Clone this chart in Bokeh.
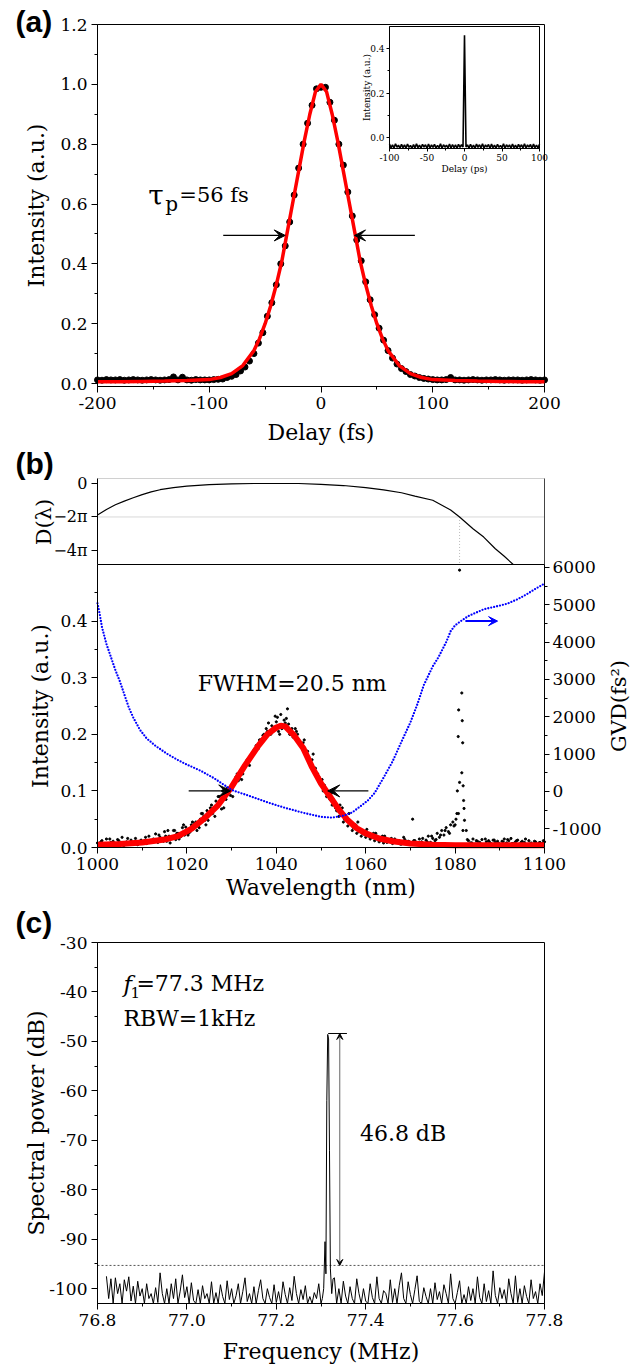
import math
from bokeh.plotting import figure
from bokeh.layouts import column
from bokeh.models import (Range1d, LinearAxis, FixedTicker, PrintfTickFormatter,
                          Label, Arrow, VeeHead)
from bokeh.embed import file_html
from bokeh.resources import INLINE

SERIF = "DejaVu Serif"
BOLD_SANS = "Liberation Sans"

# ---------------- (a) autocorrelation ----------------
a_delay = list(range(-200, 201, 4))
a_data = [0.012, 0.011, 0.013, 0.012, 0.012, 0.013, 0.011, 0.012, 0.013, 0.012, 0.011, 0.012, 0.013,
          0.012, 0.011, 0.012, 0.013, 0.022, 0.012, 0.021, 0.012, 0.011, 0.013, 0.012, 0.012,
          0.012, 0.013, 0.014, 0.015, 0.02, 0.024, 0.03, 0.042, 0.055, 0.075, 0.1, 0.135, 0.17,
          0.225, 0.27, 0.33, 0.4, 0.46, 0.54, 0.63, 0.72, 0.8, 0.87, 0.93, 0.985,
          0.99,
          0.99, 0.94, 0.88, 0.8, 0.73, 0.64, 0.56, 0.48, 0.41, 0.34, 0.28, 0.23, 0.185, 0.145,
          0.11, 0.085, 0.065, 0.05, 0.04, 0.03, 0.025, 0.02, 0.017, 0.015, 0.013,
          0.012, 0.012, 0.013, 0.02, 0.012, 0.012, 0.011, 0.012, 0.013, 0.012, 0.011, 0.012,
          0.012, 0.013, 0.012, 0.011, 0.012, 0.012, 0.012, 0.011, 0.012, 0.013, 0.012, 0.011, 0.012]
a_fit_delay = [-200, -180, -160, -140, -120, -100, -90, -80, -70, -60, -55, -50, -45, -40, -35, -30,
               -25, -20, -15, -10, -5, 0, 5, 10, 15, 20, 25, 30, 35, 40, 45, 50, 55, 60, 70, 80, 90,
               100, 120, 140, 160, 180, 200]
a_fit = [0.006, 0.006, 0.007, 0.008, 0.01, 0.013, 0.02, 0.033, 0.06, 0.11, 0.15, 0.2, 0.26, 0.33,
         0.41, 0.51, 0.61, 0.71, 0.81, 0.9, 0.975, 1.0, 0.975, 0.9, 0.81, 0.71, 0.61, 0.51, 0.41,
         0.33, 0.26, 0.2, 0.15, 0.11, 0.06, 0.033, 0.02, 0.013, 0.01, 0.008, 0.007, 0.006, 0.006]
a_xlim = (-200, 200)
a_ylim = (-0.01, 1.2)
a_xticks = [-200, -100, 0, 100, 200]
a_xminor = [-150, -50, 50, 150]
a_yticks = [0.0, 0.2, 0.4, 0.6, 0.8, 1.0, 1.2]
a_yminor = [0.1, 0.3, 0.5, 0.7, 0.9, 1.1]
a_half_level = 0.495
a_left_arrow = [-87.5, -32]
a_right_arrow = [84, 30]

inset_delay = list(range(-100, 101, 2))
inset_int = [-0.030, -0.047, -0.033, -0.048, -0.029, -0.044, -0.035, -0.049, -0.031, -0.046,
             -0.034, -0.048, -0.030, -0.045, -0.036, -0.049, -0.032, -0.047, -0.029, -0.046,
             -0.035, -0.048, -0.031, -0.044, -0.033, -0.049, -0.030, -0.047, -0.034, -0.045,
             -0.031, -0.048, -0.036, -0.046, -0.029, -0.049, -0.033, -0.044, -0.035, -0.047,
             -0.030, -0.048, -0.032, -0.046, -0.034, -0.049, -0.031, -0.045, -0.033, -0.043,
             0.460,
             -0.043, -0.034, -0.048, -0.031, -0.046, -0.035, -0.049, -0.030, -0.045, -0.033,
             -0.047, -0.029, -0.048, -0.034, -0.044, -0.032, -0.049, -0.030, -0.046, -0.035,
             -0.048, -0.031, -0.045, -0.036, -0.047, -0.029, -0.049, -0.033, -0.044, -0.034,
             -0.048, -0.030, -0.046, -0.035, -0.049, -0.031, -0.045, -0.033, -0.047, -0.029,
             -0.048, -0.034, -0.044, -0.032, -0.049, -0.030, -0.046, -0.035, -0.047, -0.031]
inset_xlim = (-100, 100)
inset_ylim = (-0.05, 0.5)
inset_xticks = [-100, -50, 0, 50, 100]
inset_xminor = [-75, -25, 25, 75]
inset_yticks = [0.0, 0.2, 0.4]
inset_yminor = [0.1, 0.3]

# ---------------- (b) spectrum ----------------
b_wl = [1000 + 0.5 * i for i in range(201)]
b_data = [0.008,
          0.004, 0.012, 0.006, 0.015, 0.003, 0.009, 0.011, 0.005, 0.014, 0.007, 0.018, 0.004, 0.01, 0.006, 0.013, 0.008, 0.016, 0.005, 0.011, 0.009,
          0.012, 0.007, 0.02, 0.01, 0.015, 0.024, 0.009, 0.018, 0.013, 0.028, 0.011, 0.02, 0.016, 0.03, 0.014, 0.025, 0.019, 0.035, 0.022, 0.03,
          0.026, 0.04, 0.033, 0.045, 0.038, 0.05, 0.06, 0.048, 0.065, 0.058, 0.075, 0.07, 0.082, 0.09, 0.078, 0.1, 0.095, 0.105, 0.098, 0.11,
          0.112, 0.125, 0.118, 0.135, 0.13, 0.148, 0.155, 0.145, 0.165, 0.172, 0.18, 0.175, 0.19, 0.198, 0.192, 0.205, 0.2, 0.215, 0.21, 0.222,
          0.205, 0.235, 0.215, 0.22, 0.245, 0.2, 0.21, 0.195, 0.205, 0.19, 0.18, 0.185, 0.165, 0.17, 0.15, 0.155, 0.14, 0.13, 0.125, 0.118,
          0.1, 0.105, 0.09, 0.085, 0.075, 0.08, 0.065, 0.055, 0.06, 0.045, 0.05, 0.038, 0.042, 0.03, 0.035, 0.025, 0.028, 0.02, 0.024, 0.018,
          0.022, 0.015, 0.018, 0.012, 0.02, 0.01, 0.014, 0.008, 0.016, 0.011, 0.013, 0.007, 0.015, 0.01, 0.012, 0.006, 0.018, 0.009, 0.011, 0.008,
          0.05, 0.012, 0.007, 0.015, 0.01, 0.006, 0.013, 0.02, 0.009, 0.016, 0.012, 0.025, 0.018, 0.03, 0.022, 0.035, 0.028, 0.04, 0.045, 0.04,
          0.1, 0.115, 0.132, 0.069, 0.03, 0.012, 0.008, 0.015, 0.006, 0.011, 0.009, 0.014, 0.005, 0.01, 0.012, 0.007, 0.013, 0.009, 0.011, 0.006,
          0.011, 0.015, 0.008, 0.012, 0.016, 0.007, 0.01, 0.013, 0.006, 0.011, 0.009, 0.004, 0.012, 0.008, 0.006, 0.01, 0.005, 0.009, 0.007, 0.01]
b_extra_wl = [1015.25 + i for i in range(50)]
b_extra = [0.02, 0.008, 0.03, 0.015, 0.04, 0.022, 0.045, 0.03, 0.06, 0.04,
           0.07, 0.055, 0.09, 0.07, 0.1, 0.09, 0.13, 0.12, 0.15, 0.16,
           0.17, 0.19, 0.2, 0.22, 0.205, 0.23, 0.21, 0.228, 0.2, 0.21,
           0.185, 0.19, 0.16, 0.165, 0.13, 0.12, 0.09, 0.095, 0.07, 0.075,
           0.05, 0.06, 0.035, 0.045, 0.025, 0.032, 0.018, 0.025, 0.012, 0.02]
b_extra2_wl = [1000.75 + i for i in range(100)]
b_extra2 = [0.01, 0.003, 0.015, 0.007, 0.012, 0.004, 0.016, 0.009, 0.006, 0.013,
            0.018, 0.009, 0.014, 0.022, 0.011, 0.03, 0.016, 0.025, 0.02, 0.036,
            0.028, 0.042, 0.035, 0.055, 0.048, 0.06, 0.072, 0.068, 0.085, 0.092,
            0.118, 0.122, 0.14, 0.15, 0.168, 0.176, 0.19, 0.21, 0.2, 0.232,
            0.2, 0.225, 0.218, 0.195, 0.2, 0.18, 0.168, 0.15, 0.14, 0.12,
            0.11, 0.095, 0.085, 0.065, 0.07, 0.052, 0.045, 0.04, 0.03, 0.028,
            0.02, 0.025, 0.014, 0.02, 0.009, 0.016, 0.012, 0.006, 0.014, 0.01,
            0.012, 0.008, 0.016, 0.01, 0.02, 0.014, 0.022, 0.03, 0.025, 0.038,
            0.06, 0.03, 0.014, 0.008, 0.012, 0.006, 0.015, 0.009, 0.013, 0.007,
            0.01, 0.014, 0.007, 0.012, 0.009, 0.015, 0.006, 0.011, 0.008, 0.012]
b_spike_wl = [1080.2, 1080.4, 1080.7, 1080.8, 1081.0, 1081.5, 1081.6, 1081.7, 1081.8, 1081.9, 1082.1]
b_spike = [0.05, 0.06, 0.196, 0.243, 0.49, 0.273, 0.224, 0.185, 0.109, 0.083, 0.048]
b_fit_wl = [1000, 1005, 1010, 1015, 1018, 1021, 1024, 1027, 1030, 1033, 1036, 1038, 1040, 1041, 1042,
            1044, 1046, 1048, 1050, 1052, 1054, 1056, 1058, 1060, 1063, 1066, 1070, 1075, 1080, 1090, 1100]
b_fit = [0.005, 0.006, 0.009, 0.014, 0.02, 0.033, 0.052, 0.075, 0.107, 0.145, 0.18, 0.2, 0.212, 0.215,
         0.214, 0.198, 0.176, 0.142, 0.113, 0.09, 0.067, 0.048, 0.034, 0.025, 0.016, 0.011, 0.007,
         0.005, 0.004, 0.004, 0.004]
gvd_wl = [1000, 1000.5, 1001, 1002, 1003, 1004, 1005, 1006, 1007, 1008, 1009.5, 1011, 1013, 1015.5,
          1018, 1020, 1023, 1026, 1030, 1034, 1038, 1042, 1046, 1050, 1052.5, 1055, 1057, 1059, 1060.5,
          1062, 1064, 1066, 1067.8, 1070, 1071.6, 1073, 1075, 1076.3, 1078, 1079, 1080, 1081.6, 1083,
          1086.4, 1089, 1091.7, 1094, 1096, 1098, 1100]
gvd = [5040, 4750, 4400, 3950, 3600, 3250, 2950, 2600, 2250, 1980, 1650, 1420, 1220, 1013, 840, 720,
       560, 360, 40, -120, -290, -440, -570, -680, -700, -650, -560, -380, -240, -40, 370, 800, 1280,
       1850, 2350, 2850, 3350, 3600, 4000, 4290, 4450, 4590, 4700, 4880, 4950, 5030, 5150, 5280, 5430, 5570]
d_wl = [1000, 1002, 1004, 1006, 1008, 1010, 1012, 1014, 1017, 1020, 1025, 1030, 1035, 1040, 1045, 1050,
        1055, 1060, 1064, 1068, 1071, 1075, 1079, 1081, 1084, 1086.4, 1089, 1091, 1093]
d_phase_pi = [-1.88, -1.55, -1.27, -1.05, -0.85, -0.66, -0.5, -0.37, -0.24, -0.15, -0.07, -0.02, 0, 0, 0,
              -0.05, -0.12, -0.24, -0.38, -0.55, -0.75, -1.0, -1.58, -2.0, -2.7, -3.2, -3.9, -4.35, -4.84]
b_xlim = (1000, 1100)
b_ylim = (0, 0.5)
gvd_lim = (-1500, 6080)
phase_lim = (-4.84, 0.3)
d_ticks = [-4, -2, 0]
d_tick_labels = {0: "0", -2: "\u22122\u03c0", -4: "\u22124\u03c0"}
b_xticks = [1000, 1020, 1040, 1060, 1080, 1100]
b_xminor = [1010, 1030, 1050, 1070, 1090]
b_yticks = [0.0, 0.1, 0.2, 0.3, 0.4]
b_yminor = [0.05, 0.15, 0.25, 0.35, 0.45]
gvd_ticks = [-1000, 0, 1000, 2000, 3000, 4000, 5000, 6000]
gvd_minor = [-500, 500, 1500, 2500, 3500, 4500, 5500]
cross_wl = 1081
cross_phase = -2
b_half_level = 0.1
b_left_arrow = [1020.4, 1029.8]
b_right_arrow = [1060.6, 1051.5]
b_gvd_arrow = [1082.3, 1089.5]
b_gvd_arrow_level = 0.4

# ---------------- (c) RF spectrum (floor of the trace sits on the axis at -103) ----------------
c_pre = [-97.5, -102, -98, -103, -97.8, -101, -99, -103, -98.2, -100.5, -97.6, -102.5, -99.5, -103, -98.5, -101.5, -100, -103, -99, -102,
         -101, -103, -99.8, -102.8, -96.8, -101, -103, -100, -103, -99, -102, -98, -103, -100.5, -97.2, -101.8, -99.6, -103, -98.8, -102.4,
         -103, -100.2, -103, -99.4, -102, -101, -103, -98.6, -103, -100.8, -103, -99.2, -101.6, -103, -98.4, -102.2, -100, -103, -101.4, -99,
         -103, -100.6, -97.8, -102.6, -101, -103, -99.6, -103, -100.4, -98.2, -102, -103, -100, -101.8, -103, -99.2, -102.8, -100.6, -103, -98.6,
         -101.2, -103, -99.8, -102.4, -97.5, -101, -103, -100.2, -102.2, -99.4, -103, -101.6, -103, -100.8, -102, -99, -103]
c_peak_f = [77.303, 77.306, 77.309, 77.311, 77.313, 77.315, 77.317, 77.319, 77.321, 77.324, 77.327]
c_peak = [-102, -100, -90.5, -97, -62, -48.6, -49.5, -72, -96, -101, -98]
c_post = [-97.8, -103, -100, -103, -98.5, -101.5, -103, -99.6, -102, -103, -98, -101, -103, -100, -102.5, -103, -99, -101.8, -103, -97.6,
          -102, -103, -100.4, -101, -103, -98.2, -102.8, -100, -103, -99.4, -96.8, -102, -103, -98.6, -101.2, -103, -100.2, -97.4, -102.6, -103,
          -99.8, -101.6, -103, -100, -103, -98.8, -102.2, -100.6, -103, -99.2, -101, -103, -97, -102, -103, -100.8, -98.4, -103, -101.2, -103,
          -99.6, -102.4, -100, -103, -97.6, -101.8, -103, -99, -102.6, -100.4, -103, -96.4, -101.4, -103, -99.8, -102, -100.2, -103, -98, -101,
          -103, -97.4, -102.8, -100, -103, -99.4, -101.6, -103, -98.2, -102, -100.6, -103, -99, -101.4, -96.6]
c_freq = ([76.82 + 0.005 * i for i in range(len(c_pre))] + c_peak_f +
          [77.33 + 0.005 * i for i in range(len(c_post))])
c_power = c_pre + c_peak + c_post
c_xlim = (76.8, 77.8)
c_ylim = (-103, -30)
c_xticks = [76.8, 77.0, 77.2, 77.4, 77.6, 77.8]
c_xminor = [76.9, 77.1, 77.3, 77.5, 77.7]
c_yticks = [-100, -90, -80, -70, -60, -50, -40, -30]
c_yminor = [-95, -85, -75, -65, -55, -45, -35]
c_floor = -95.3
c_peak_top = -48.4
c_arrow_f = 77.342
c_bar = [77.316, 77.358]

# ---------------- page geometry (pixels) ----------------
W = 635
FX0, FX1 = 97, 544                       # frame left / right on the page
A_C = (0, 448)                           # canvas top / bottom of each panel
B_C = (448, 904)
C_C = (904, 1366)
A_F = (24, 386)                          # frame top / bottom
B_STRIP = (478, 564)
B_F = (564, 847)
C_F = (942, 1303)
INSET_X = (389, 539)
INSET_Y = (26, 148)


def x_ext(v0, v1, p0=FX0, p1=FX1):
    s = (v1 - v0) / (p1 - p0)
    return Range1d(v0 - p0 * s, v1 + (W - p1) * s)


def y_ext(lim, frame, canvas):
    v_bot, v_top = lim
    px_top, px_bot = frame
    c_top, c_bot = canvas
    s = (v_top - v_bot) / (px_bot - px_top)
    return Range1d(v_bot - (c_bot - px_bot) * s, v_top + (px_top - c_top) * s)


def style_axis(ax, tick_fs="17px", tick_out=6, minor_out=3, standoff=4):
    ax.axis_line_color = "black"
    ax.axis_line_width = 1
    ax.major_tick_line_color = "black"
    ax.minor_tick_line_color = "black"
    ax.major_tick_in = 0
    ax.major_tick_out = tick_out
    ax.minor_tick_in = 0
    ax.minor_tick_out = minor_out
    ax.major_label_standoff = standoff
    ax.major_label_text_font = SERIF
    ax.major_label_text_font_size = tick_fs
    ax.major_label_text_color = "black"


def add_axis(p, side, ticks, minor, fmt, loc, bounds, overrides=None, **kw):
    style = {k: kw.pop(k) for k in ("tick_fs", "tick_out", "minor_out", "standoff") if k in kw}
    ax = LinearAxis(ticker=FixedTicker(ticks=ticks, minor_ticks=minor),
                    formatter=PrintfTickFormatter(format=fmt),
                    fixed_location=loc, bounds=bounds, **kw)
    style_axis(ax, **style)
    if overrides:
        ax.major_label_overrides = overrides
    p.add_layout(ax, side)
    return ax


def full_fig(canvas, x_range, y_range):
    p = figure(width=W, height=canvas[1] - canvas[0], x_range=x_range, y_range=y_range,
               output_backend="svg", toolbar_location=None, x_axis_location=None,
               y_axis_location=None, min_border=0, min_border_left=0, min_border_right=0,
               min_border_top=0, min_border_bottom=0)
    p.outline_line_color = None
    for g in p.grid:
        g.visible = False
    p.background_fill_color = "white"
    p.border_fill_color = "white"
    return p


def text(p, x, y, s, size="22px", dx=0, dy=0, angle=0, align="left", font=SERIF,
         style="normal", **rn):
    p.add_layout(Label(x=x, y=y, text=s, x_offset=dx, y_offset=dy, angle=angle,
                       text_font=font, text_font_size=size, text_font_style=style,
                       text_color="black", text_align=align, text_baseline="middle", **rn))


def panel_letter(p, x, y, s, dy, **rn):
    text(p, x, y, s, size="30px", dx=-82, dy=dy, font=BOLD_SANS, style="bold", **rn)


def frame_box(p, xlim, ylim, **rn):
    p.quad(left=[xlim[0]], right=[xlim[1]], bottom=[ylim[0]], top=[ylim[1]], fill_alpha=0,
           line_color="black", line_width=1, **rn)


# ---------- panel (a) ----------
pa = full_fig(A_C, x_ext(*a_xlim), y_ext(a_ylim, A_F, A_C))
pa.extra_x_ranges = {"ix": x_ext(*inset_xlim, *INSET_X)}
pa.extra_y_ranges = {"iy": y_ext(inset_ylim, INSET_Y, A_C)}
frame_box(pa, a_xlim, a_ylim)
add_axis(pa, "below", a_xticks, a_xminor, "%d", a_ylim[0], a_xlim)
add_axis(pa, "left", a_yticks, a_yminor, "%.1f", a_xlim[0], a_ylim)
pa.scatter(a_delay, a_data, size=6, color="black")
pa.line(a_fit_delay, a_fit, line_color="red", line_width=3.5)
for x0, x1 in (a_left_arrow, a_right_arrow):
    pa.add_layout(Arrow(end=VeeHead(size=11, fill_color="black", line_color="black"),
                        x_start=x0, y_start=a_half_level, x_end=x1, y_end=a_half_level,
                        line_color="black", line_width=1.2))
text(pa, -154.5, 0.63, "\u03c4", size="28px")
text(pa, -154.5, 0.63, "p", size="20px", dx=17, dy=-9)
text(pa, -154.5, 0.63, "=56 fs", size="21px", dx=31)
text(pa, a_xlim[0], sum(a_ylim) / 2, "Intensity (a.u.)", dx=-61, angle=math.pi / 2, align="center")
text(pa, sum(a_xlim) / 2, a_ylim[0], "Delay (fs)", dy=-46, align="center")
panel_letter(pa, a_xlim[0], a_ylim[1], "(a)", dy=3)

IR = dict(x_range_name="ix", y_range_name="iy")
pa.quad(left=[inset_xlim[0]], right=[inset_xlim[1]], bottom=[inset_ylim[0]], top=[inset_ylim[1]],
        fill_color="white", line_color="black", line_width=1, **IR)
pa.line(inset_delay, inset_int, line_color="black", line_width=1.6, **IR)
add_axis(pa, "below", inset_xticks, inset_xminor, "%d", inset_ylim[0], inset_xlim,
         tick_fs="9px", tick_out=3, minor_out=2, standoff=2, **IR)
add_axis(pa, "left", inset_yticks, inset_yminor, "%.1f", inset_xlim[0], inset_ylim,
         tick_fs="9px", tick_out=3, minor_out=2, standoff=2, **IR)
text(pa, sum(inset_xlim) / 2, inset_ylim[0], "Delay (ps)", size="9px", dy=-20, align="center", **IR)
text(pa, inset_xlim[0], sum(inset_ylim) / 2, "Intensity (a.u.)", size="9px", dx=-23,
     angle=math.pi / 2, align="center", **IR)

# ---------- panel (b): phase strip + spectrum/GVD ----------
pb = full_fig(B_C, x_ext(*b_xlim), y_ext(b_ylim, B_F, B_C))
pb.extra_y_ranges = {"gvd": y_ext(gvd_lim, B_F, B_C), "phase": y_ext(phase_lim, B_STRIP, B_C)}
PH = dict(y_range_name="phase")
GV = dict(y_range_name="gvd")
# strip edges and guide lines
pb.segment(x0=[b_xlim[0]], y0=[phase_lim[1]], x1=[b_xlim[1]], y1=[phase_lim[1]],
           line_color="#d0d0d0", line_width=1, **PH)
pb.segment(x0=[b_xlim[0]], y0=[cross_phase], x1=[b_xlim[1]], y1=[cross_phase],
           line_color="#d8d8d8", line_width=1, **PH)
pb.segment(x0=[cross_wl], y0=[cross_phase], x1=[cross_wl], y1=[phase_lim[0]],
           line_color="#bbbbbb", line_dash="1 2", line_width=1, **PH)
pb.segment(x0=[b_xlim[1]], y0=[phase_lim[0]], x1=[b_xlim[1]], y1=[phase_lim[1]],
           line_color="#444444", line_width=1, **PH)
pb.segment(x0=[b_xlim[0]], y0=[b_ylim[1]], x1=[b_xlim[1]], y1=[b_ylim[1]],
           line_color="black", line_width=1)
pb.line(d_wl, d_phase_pi, line_color="black", line_width=1.2, **PH)
add_axis(pb, "left", d_ticks, [], "%d", b_xlim[0], phase_lim, overrides=d_tick_labels,
         tick_fs="16px", **PH)
add_axis(pb, "left", b_yticks, b_yminor, "%.1f", b_xlim[0], b_ylim)
add_axis(pb, "below", b_xticks, b_xminor, "%d", b_ylim[0], b_xlim)
add_axis(pb, "right", gvd_ticks, gvd_minor, "%d", b_xlim[1], gvd_lim, tick_out=5, standoff=3, **GV)

pb.scatter(b_wl, b_data, size=2.2, color="black")
pb.scatter(b_extra_wl, b_extra, size=2.2, color="black")
pb.scatter(b_extra2_wl, b_extra2, size=2.2, color="black")
pb.scatter(b_spike_wl, b_spike, size=2.2, color="black")
pb.line(b_fit_wl, b_fit, line_color="red", line_width=6)
pb.line(gvd_wl, gvd, line_color="blue", line_width=2.3, line_dash="0 3", line_cap="round", **GV)
for x0, x1 in (b_left_arrow, b_right_arrow):
    pb.add_layout(Arrow(end=VeeHead(size=12, fill_color="black", line_color="black"),
                        x_start=x0, y_start=b_half_level, x_end=x1, y_end=b_half_level,
                        line_color="black", line_width=1.2))
pb.add_layout(Arrow(end=VeeHead(size=9, fill_color="blue", line_color="blue"),
                    x_start=b_gvd_arrow[0], y_start=b_gvd_arrow_level,
                    x_end=b_gvd_arrow[1], y_end=b_gvd_arrow_level,
                    line_color="blue", line_width=2))
text(pb, 1022.4, 0.289, "FWHM=20.5 nm")
text(pb, b_xlim[0], sum(b_ylim) / 2, "Intensity (a.u.)", dx=-57, angle=math.pi / 2, align="center")
text(pb, b_xlim[0], -2.3, "D(\u03bb)", size="21px", dx=-54, angle=math.pi / 2, align="center", **PH)
text(pb, b_xlim[1], sum(gvd_lim) / 2, "GVD(fs\u00b2)", size="21px", dx=74, angle=math.pi / 2,
     align="center", **GV)
text(pb, sum(b_xlim) / 2, b_ylim[0], "Wavelength (nm)", dy=-40, align="center")
panel_letter(pb, b_xlim[0], phase_lim[1], "(b)", dy=15, **PH)

# ---------- panel (c) ----------
pc = full_fig(C_C, x_ext(*c_xlim), y_ext(c_ylim, C_F, C_C))
frame_box(pc, c_xlim, c_ylim)
add_axis(pc, "below", c_xticks, c_xminor, "%.1f", c_ylim[0], c_xlim)
add_axis(pc, "left", c_yticks, c_yminor, "%d", c_xlim[0], c_ylim)
pc.segment(x0=[c_xlim[0]], y0=[c_floor], x1=[c_xlim[1]], y1=[c_floor], line_dash="2 2",
           line_color="#555555", line_width=1)
pc.line(c_freq, c_power, line_color="black", line_width=1)
pc.segment(x0=[c_bar[0]], y0=[c_peak_top], x1=[c_bar[1]], y1=[c_peak_top], line_color="black",
           line_width=1)
pc.add_layout(Arrow(start=VeeHead(size=6, fill_color="black", line_color="black"),
                    end=VeeHead(size=6, fill_color="black", line_color="black"),
                    x_start=c_arrow_f, y_start=c_floor, x_end=c_arrow_f, y_end=c_peak_top,
                    line_color="#666666", line_width=1))
text(pc, 76.858, -38.3, "f", size="23px", style="italic")
text(pc, 76.858, -38.3, "1", size="15px", dx=7, dy=-9)
text(pc, 76.858, -38.3, "=77.3 MHz", dx=13)
text(pc, 76.858, -45.35, "RBW=1kHz")
text(pc, 77.387, -68.6, "46.8 dB")
text(pc, c_xlim[0], sum(c_ylim) / 2, "Spectral power (dB)", dx=-61, angle=math.pi / 2, align="center")
text(pc, sum(c_xlim) / 2, c_ylim[0], "Frequency (MHz)", dy=-48, align="center")
panel_letter(pc, c_xlim[0], c_ylim[1], "(c)", dy=20)

layout = column(pa, pb, pc, spacing=0)
open("out.html", "w").write(file_html(layout, INLINE))
